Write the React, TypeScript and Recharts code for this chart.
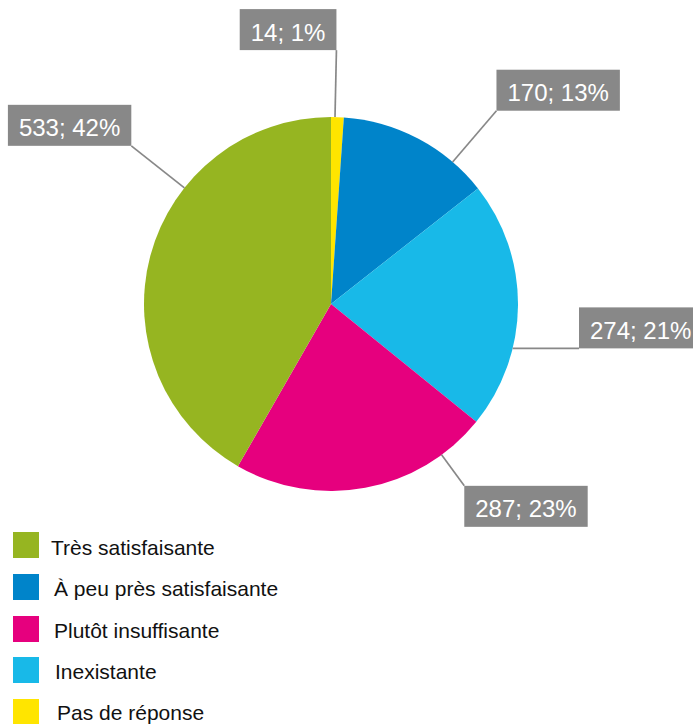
import { PieChart, Pie, Cell } from "recharts";

// slices in clockwise order from 12 o'clock
const categories = ["Pas de réponse", "À peu près satisfaisante", "Inexistante", "Plutôt insuffisante", "Très satisfaisante"];
const counts = [14, 170, 274, 287, 533];
const colors = ["#FFE500", "#0084CA", "#18B9E8", "#E6007E", "#96B521"];

// legend is listed in a different order than the slices
const legendOrder = ["Très satisfaisante", "À peu près satisfaisante", "Plutôt insuffisante", "Inexistante", "Pas de réponse"];

// label box placement: offset of the attach corner from the slice's mid-arc point
const labelLayout = [
  { dx: -1, dy: -67, corner: "rb", flat: false },
  { dx: 78, dy: -28, corner: "lb", flat: false },
  { dx: 61, dy: 43, corner: "lb", flat: true },
  { dx: 99, dy: -2, corner: "lt", flat: false },
  { dx: -19, dy: -110, corner: "rb", flat: false },
];

const RAD = Math.PI / 180;
const FONT = "'Liberation Sans', Arial, sans-serif";

// whole-number percentages that add to 100 (largest remainder)
function roundedShares(vals: number[]) {
  const total = vals.reduce((a, b) => a + b, 0);
  const raw = vals.map((v) => (v / total) * 100);
  const out = raw.map(Math.floor);
  const left = 100 - out.reduce((a, b) => a + b, 0);
  const order = raw.map((r, i) => [r - Math.floor(r), i]).sort((a, b) => b[0] - a[0]);
  for (let k = 0; k < left; k++) out[order[k][1]] += 1;
  return out;
}
const shares = roundedShares(counts);

const data = categories.map((name, i) => ({ name, value: counts[i] }));

let measureCtx: CanvasRenderingContext2D | null = null;
function textWidth(s: string) {
  if (!measureCtx) measureCtx = document.createElement("canvas").getContext("2d");
  if (!measureCtx) return s.length * 12;
  measureCtx.font = `24px ${FONT}`;
  return measureCtx.measureText(s).width;
}

function renderLabel(props: any) {
  const { cx, cy, outerRadius, index } = props;
  const mid = props.midAngle ?? (props.startAngle + props.endAngle) / 2;
  const mx = cx + outerRadius * Math.cos(-mid * RAD);
  const my = cy + outerRadius * Math.sin(-mid * RAD);
  const lay = labelLayout[index];
  const ax = mx + lay.dx;
  const ay = my + lay.dy;
  const text = `${counts[index]}; ${shares[index]}%`;
  const w = textWidth(text) + 22;
  const h = 41;
  const left = lay.corner[0] === "l" ? ax : ax - w;
  const top = lay.corner[1] === "t" ? ay : ay - h;
  // leader line runs from the attach corner to the rim
  let ex: number;
  let ey: number;
  if (lay.flat) {
    ey = ay;
    ex = cx + Math.sqrt(outerRadius * outerRadius - (ay - cy) * (ay - cy));
  } else {
    const vx = ax - cx;
    const vy = ay - cy;
    const len = Math.sqrt(vx * vx + vy * vy);
    ex = cx + (vx / len) * outerRadius;
    ey = cy + (vy / len) * outerRadius;
  }
  return (
    <g key={`lbl-${index}`}>
      <line x1={ex} y1={ey} x2={ax} y2={ay} stroke="#888888" strokeWidth={1.7} />
      <rect x={left} y={top} width={w} height={h} fill="#888888" />
      <text x={left + w / 2} y={top + 31.5} textAnchor="middle" fill="#ffffff" fontSize={24} fontFamily={FONT}>
        {text}
      </text>
    </g>
  );
}

export default function App() {
  return (
    <div style={{ position: "absolute", left: 0, top: 0, width: 693, height: 724, background: "#fff", overflow: "hidden" }}>
      <PieChart width={693} height={724} margin={{ top: 0, right: 0, bottom: 0, left: 0 }}>
        <Pie
          data={data}
          dataKey="value"
          nameKey="name"
          cx={331}
          cy={304}
          outerRadius={187}
          startAngle={90}
          endAngle={-270}
          stroke="none"
          label={renderLabel}
          labelLine={false}
          isAnimationActive={false}
        >
          {data.map((d, i) => (
            <Cell key={d.name} fill={colors[i]} />
          ))}
        </Pie>
      </PieChart>
      <div style={{ position: "absolute", left: 0, top: 0 }}>
        {legendOrder.map((name, i) => {
          const ci = categories.indexOf(name);
          const boxTop = 532 + i * 41.8;
          const textTop = 535 + i * 41.25;
          return (
            <div key={name}>
              <div style={{ position: "absolute", left: 13, top: boxTop, width: 26, height: 26, background: colors[ci] }} />
              <div
                style={{
                  position: "absolute",
                  left: [51, 54, 54, 55, 57][i],
                  top: textTop,
                  lineHeight: "26px",
                  fontSize: 21,
                  fontFamily: FONT,
                  color: "#111",
                  whiteSpace: "nowrap",
                }}
              >
                {name}
              </div>
            </div>
          );
        })}
      </div>
    </div>
  );
}
